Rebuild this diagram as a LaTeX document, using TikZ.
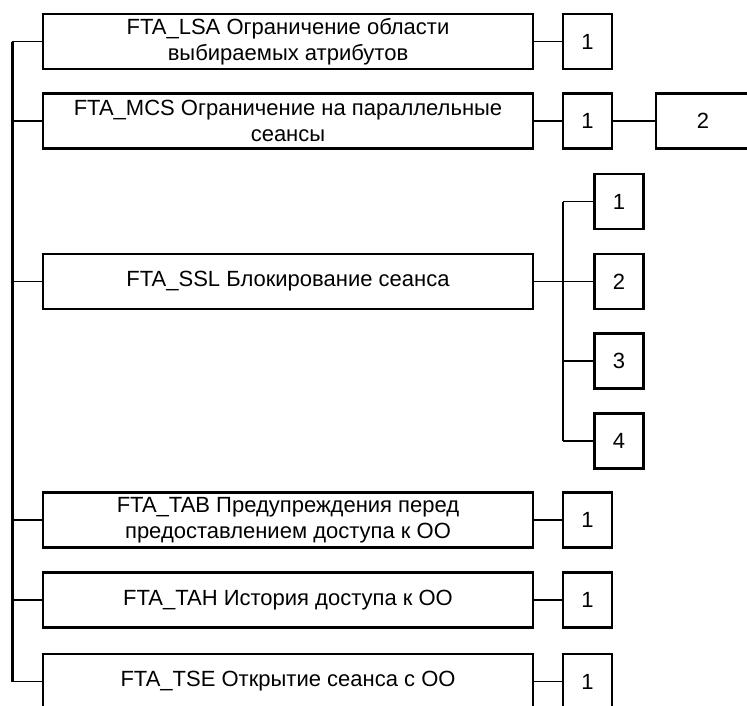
\documentclass[tikz,border=0pt]{standalone}
\usepackage{fontspec}
\setmainfont{Liberation Sans}

\begin{document}
\begin{tikzpicture}
  [x=1pt,y=-1pt,every node/.style={draw,line width=2.2pt,align=center,inner sep=0pt,minimum height=55pt,
     font=\fontsize{22}{26.4}\selectfont},
   fbox/.style={minimum width=490pt},
   nbox/.style={minimum width=49pt},
   link/.style={line width=1.2pt},
   spine/.style={line width=3pt}]
  \useasboundingbox (0,0) rectangle (747,705);
  \clip (0,0) rectangle (747,705);
  % families
  \node [fbox] (lsa) at (288,41.5) {FTA\_LSA Ограничение области\\выбираемых атрибутов};
  \node [fbox] (mcs) at (288,121) {FTA\_MCS Ограничение на параллельные\\сеансы};
  \node [fbox] (ssl) at (288,281.5) {FTA\_SSL Блокирование сеанса};
  \node [fbox] (tab) at (288,520) {FTA\_TAB Предупреждения перед\\предоставлением доступа к ОО};
  \node [fbox] (tah) at (288,600) {FTA\_TAH История доступа к ОО};
  \node [fbox] (tse) at (288,681.5) {FTA\_TSE Открытие сеанса с ОО};
  % components
  \node [nbox] (lsa1) at (587.5,41.5) {1};
  \node [nbox] (mcs1) at (587.5,121) {1};
  \node [minimum width=94pt] (mcs2) at (703,121) {2};
  \node [nbox] (ssl1) at (619,201.5) {1};
  \node [nbox] (ssl2) at (619,281.5) {2};
  \node [nbox] (ssl3) at (619,361) {3};
  \node [nbox] (ssl4) at (619,441) {4};
  \node [nbox] (tab1) at (587.5,520) {1};
  \node [nbox] (tah1) at (587.5,600) {1};
  \node [nbox] (tse1) at (587.5,681.5) {1};
  \coordinate (top) at (12,41.5);
  \coordinate (bot) at (12,681.5);
  \coordinate (fork) at (563,0);

  \draw [spine] (top) -- (bot);
  \foreach \n in {lsa,mcs,ssl,tab,tah,tse}
    \draw [link] (\n.west) -- (\n.west -| top);

  \foreach \from/\to in {lsa/lsa1,mcs/mcs1,mcs1/mcs2,ssl/ssl2,tab/tab1,tah/tah1,tse/tse1}
    \draw [link] (\from) -- (\to);

  \draw [link] (ssl1.west -| fork) -- (ssl4.west -| fork);
  \foreach \c in {ssl1,ssl3,ssl4}
    \draw [link] (\c.west) -- (\c.west -| fork);
\end{tikzpicture}
\end{document}
